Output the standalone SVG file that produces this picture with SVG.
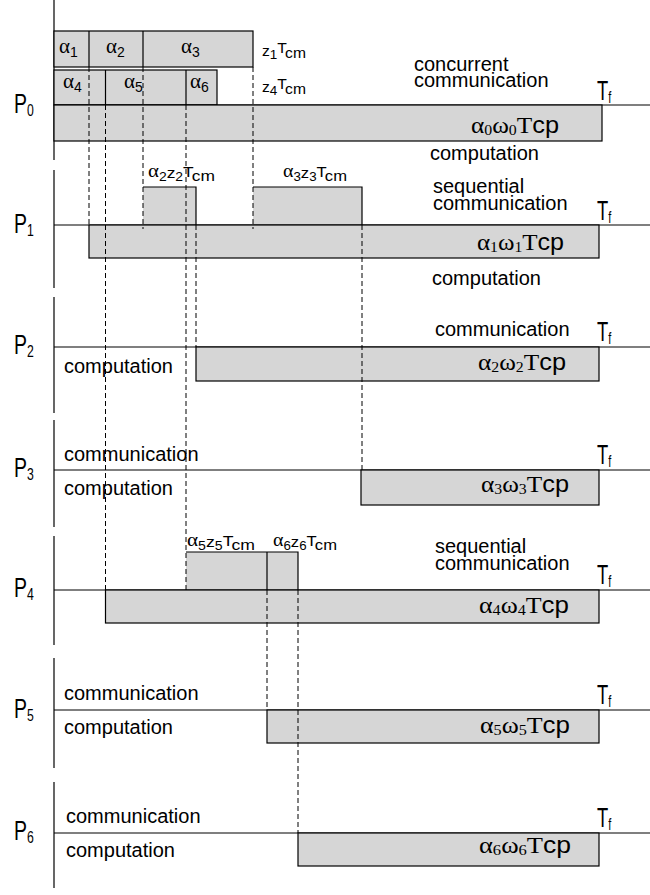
<svg xmlns="http://www.w3.org/2000/svg" width="650" height="895" viewBox="0 0 650 895">
<style>
.ln{stroke:#000;stroke-width:1.2;fill:none}
.rc{fill:#d6d6d6;stroke:#000;stroke-width:1.2}
.fl{fill:#d6d6d6;stroke:none}
.dl{stroke:#000;stroke-width:1;stroke-dasharray:5 3;fill:none}
.s{font-family:"Liberation Sans",Arial,Helvetica,sans-serif;font-size:20px;fill:#000}
.sm{font-family:"Liberation Sans",Arial,Helvetica,sans-serif;font-size:14px;fill:#000}
.g{font-family:"Liberation Serif","Times New Roman",serif;fill:#000}
.sf{font-family:"Liberation Sans",Arial,Helvetica,sans-serif}
.P{font-family:"Liberation Sans",Arial,Helvetica,sans-serif;font-size:27px;fill:#000}
.T{font-family:"Liberation Sans",Arial,Helvetica,sans-serif;font-size:27px;fill:#000}
.w{font-size:24px}
</style>

<!-- time axis, broken between processor frames -->
<g id="axis" class="ln">
  <line x1="54" y1="0" x2="54" y2="160"/>
  <line x1="54" y1="170" x2="54" y2="288"/>
  <line x1="54" y1="297" x2="54" y2="413"/>
  <line x1="54" y1="420" x2="54" y2="527"/>
  <line x1="54" y1="536" x2="54" y2="645"/>
  <line x1="54" y1="658" x2="54" y2="768"/>
  <line x1="54" y1="782" x2="54" y2="888"/>
</g>

<!-- P0: concurrent sends of the load fractions -->
<g id="p0">
  <rect class="rc" x="54" y="31" width="199" height="36"/>
  <line class="ln" x1="89" y1="31" x2="89" y2="67"/>
  <line class="ln" x1="143" y1="31" x2="143" y2="67"/>
  <rect class="rc" x="54" y="70" width="163" height="35"/>
  <line class="ln" x1="105.5" y1="70" x2="105.5" y2="105"/>
  <line class="ln" x1="186" y1="70" x2="186" y2="105"/>
  <text class="g" x="59" y="53" font-size="21">α<tspan class="sf" font-size="14" dy="4">1</tspan></text>
  <text class="g" x="106" y="53" font-size="21">α<tspan class="sf" font-size="14" dy="4">2</tspan></text>
  <text class="g" x="181" y="53" font-size="21">α<tspan class="sf" font-size="14" dy="4">3</tspan></text>
  <text class="g" x="63" y="88" font-size="21">α<tspan class="sf" font-size="14" dy="4">4</tspan></text>
  <text class="g" x="124" y="88" font-size="21">α<tspan class="sf" font-size="14" dy="4">5</tspan></text>
  <text class="g" x="190" y="88" font-size="21">α<tspan class="sf" font-size="14" dy="4">6</tspan></text>
  <text class="sm" x="262" y="56" font-size="15" textLength="44" lengthAdjust="spacingAndGlyphs">z<tspan font-size="12" dy="2.5">1</tspan><tspan dy="-5.5">T</tspan><tspan dy="5">cm</tspan></text>
  <text class="sm" x="262" y="92" font-size="15" textLength="44" lengthAdjust="spacingAndGlyphs">z<tspan font-size="12" dy="2.5">4</tspan><tspan dy="-5.5">T</tspan><tspan dy="5">cm</tspan></text>
  <text class="s" x="414" y="70.5">concurrent</text>
  <text class="s" x="414" y="87">communication</text>
  <line class="ln" x1="54" y1="105" x2="650" y2="105"/>
  <rect class="rc" x="54" y="105" width="548" height="36"/>
  <text class="g w" x="471" y="133" textLength="88" lengthAdjust="spacingAndGlyphs">α<tspan font-size="15" dy="2">0</tspan><tspan dy="-2">ω</tspan><tspan font-size="15" dy="2">0</tspan><tspan dy="-2">T</tspan><tspan class="sf">cp</tspan></text>
  <text class="s" x="430" y="160">computation</text>
  <text class="P" transform="translate(14,113) scale(0.72,1)">P<tspan font-size="17" dy="3">0</tspan></text>
  <text class="T" transform="translate(597,100) scale(0.68,1)">T<tspan font-size="16" dy="3">f</tspan></text>
</g>

<!-- P1: sequential relay of alpha2 and alpha3 -->
<g id="p1">
  <rect class="fl" x="143" y="187" width="53" height="38"/>
  <polyline class="ln" points="143,187 196,187 196,225"/>
  <rect class="fl" x="253" y="187" width="109" height="38"/>
  <polyline class="ln" points="253,187 362,187 362,225"/>
  <text class="g" x="148" y="177" font-size="18" textLength="67" lengthAdjust="spacingAndGlyphs">α<tspan class="sf" font-size="12" dy="4">2</tspan><tspan class="sf" font-size="15" dy="-3">z</tspan><tspan class="sf" font-size="12" dy="3">2</tspan><tspan class="sf" font-size="15" dy="-4">T</tspan><tspan class="sf" font-size="15" dy="4">cm</tspan></text>
  <text class="g" x="283" y="177" font-size="18" textLength="64" lengthAdjust="spacingAndGlyphs">α<tspan class="sf" font-size="12" dy="4">3</tspan><tspan class="sf" font-size="15" dy="-3">z</tspan><tspan class="sf" font-size="12" dy="3">3</tspan><tspan class="sf" font-size="15" dy="-4">T</tspan><tspan class="sf" font-size="15" dy="4">cm</tspan></text>
  <text class="s" x="433" y="192.5">sequential</text>
  <text class="s" x="433" y="210">communication</text>
  <line class="ln" x1="54" y1="225" x2="650" y2="225"/>
  <rect class="rc" x="89" y="225" width="510" height="33"/>
  <text class="g w" x="477" y="250" textLength="87" lengthAdjust="spacingAndGlyphs">α<tspan font-size="15" dy="2">1</tspan><tspan dy="-2">ω</tspan><tspan font-size="15" dy="2">1</tspan><tspan dy="-2">T</tspan><tspan class="sf">cp</tspan></text>
  <text class="s" x="432" y="285">computation</text>
  <text class="P" transform="translate(14,233) scale(0.72,1)">P<tspan font-size="17" dy="3">1</tspan></text>
  <text class="T" transform="translate(597,220) scale(0.68,1)">T<tspan font-size="16" dy="3">f</tspan></text>
</g>

<!-- P2 -->
<g id="p2">
  <text class="s" x="435" y="336">communication</text>
  <line class="ln" x1="54" y1="347" x2="650" y2="347"/>
  <rect class="rc" x="196" y="347" width="403" height="34"/>
  <text class="g w" x="478" y="370" textLength="88" lengthAdjust="spacingAndGlyphs">α<tspan font-size="15" dy="2">2</tspan><tspan dy="-2">ω</tspan><tspan font-size="15" dy="2">2</tspan><tspan dy="-2">T</tspan><tspan class="sf">cp</tspan></text>
  <text class="s" x="64" y="373">computation</text>
  <text class="P" transform="translate(14,354) scale(0.72,1)">P<tspan font-size="17" dy="3">2</tspan></text>
  <text class="T" transform="translate(597,341) scale(0.68,1)">T<tspan font-size="16" dy="3">f</tspan></text>
</g>

<!-- P3 -->
<g id="p3">
  <text class="s" x="64" y="461">communication</text>
  <line class="ln" x1="54" y1="470" x2="650" y2="470"/>
  <rect class="rc" x="361" y="470" width="238" height="35"/>
  <text class="g w" x="481" y="492" textLength="88" lengthAdjust="spacingAndGlyphs">α<tspan font-size="15" dy="2">3</tspan><tspan dy="-2">ω</tspan><tspan font-size="15" dy="2">3</tspan><tspan dy="-2">T</tspan><tspan class="sf">cp</tspan></text>
  <text class="s" x="64" y="495">computation</text>
  <text class="P" transform="translate(14,477) scale(0.72,1)">P<tspan font-size="17" dy="3">3</tspan></text>
  <text class="T" transform="translate(597,464) scale(0.68,1)">T<tspan font-size="16" dy="3">f</tspan></text>
</g>

<!-- P4: sequential relay of alpha5 and alpha6 -->
<g id="p4">
  <rect class="fl" x="186" y="552" width="112" height="38"/>
  <polyline class="ln" points="186,552 298,552 298,590"/>
  <line class="ln" x1="267" y1="552" x2="267" y2="590"/>
  <text class="g" x="187" y="546" font-size="18" textLength="68" lengthAdjust="spacingAndGlyphs">α<tspan class="sf" font-size="12" dy="4">5</tspan><tspan class="sf" font-size="15" dy="-3">z</tspan><tspan class="sf" font-size="12" dy="3">5</tspan><tspan class="sf" font-size="15" dy="-4">T</tspan><tspan class="sf" font-size="15" dy="4">cm</tspan></text>
  <text class="g" x="273" y="546" font-size="18" textLength="64" lengthAdjust="spacingAndGlyphs">α<tspan class="sf" font-size="12" dy="4">6</tspan><tspan class="sf" font-size="15" dy="-3">z</tspan><tspan class="sf" font-size="12" dy="3">6</tspan><tspan class="sf" font-size="15" dy="-4">T</tspan><tspan class="sf" font-size="15" dy="4">cm</tspan></text>
  <text class="s" x="435" y="552.5">sequential</text>
  <text class="s" x="435" y="570">communication</text>
  <line class="ln" x1="54" y1="590" x2="650" y2="590"/>
  <rect class="rc" x="105.5" y="590" width="493.5" height="33"/>
  <text class="g w" x="479" y="613" textLength="90" lengthAdjust="spacingAndGlyphs">α<tspan font-size="15" dy="2">4</tspan><tspan dy="-2">ω</tspan><tspan font-size="15" dy="2">4</tspan><tspan dy="-2">T</tspan><tspan class="sf">cp</tspan></text>
  <text class="P" transform="translate(14,597) scale(0.72,1)">P<tspan font-size="17" dy="3">4</tspan></text>
  <text class="T" transform="translate(597,584) scale(0.68,1)">T<tspan font-size="16" dy="3">f</tspan></text>
</g>

<!-- P5 -->
<g id="p5">
  <text class="s" x="64" y="700">communication</text>
  <line class="ln" x1="54" y1="710" x2="650" y2="710"/>
  <rect class="rc" x="267" y="710" width="332" height="33"/>
  <text class="g w" x="480" y="733" textLength="90" lengthAdjust="spacingAndGlyphs">α<tspan font-size="15" dy="2">5</tspan><tspan dy="-2">ω</tspan><tspan font-size="15" dy="2">5</tspan><tspan dy="-2">T</tspan><tspan class="sf">cp</tspan></text>
  <text class="s" x="64" y="734">computation</text>
  <text class="P" transform="translate(14,718) scale(0.72,1)">P<tspan font-size="17" dy="3">5</tspan></text>
  <text class="T" transform="translate(597,704) scale(0.68,1)">T<tspan font-size="16" dy="3">f</tspan></text>
</g>

<!-- P6 -->
<g id="p6">
  <text class="s" x="66" y="823">communication</text>
  <line class="ln" x1="54" y1="833" x2="650" y2="833"/>
  <rect class="rc" x="298" y="833" width="301" height="33"/>
  <text class="g w" x="479" y="853" textLength="92" lengthAdjust="spacingAndGlyphs">α<tspan font-size="15" dy="2">6</tspan><tspan dy="-2">ω</tspan><tspan font-size="15" dy="2">6</tspan><tspan dy="-2">T</tspan><tspan class="sf">cp</tspan></text>
  <text class="s" x="66" y="857">computation</text>
  <text class="P" transform="translate(14,840) scale(0.72,1)">P<tspan font-size="17" dy="3">6</tspan></text>
  <text class="T" transform="translate(597,827) scale(0.68,1)">T<tspan font-size="16" dy="3">f</tspan></text>
</g>

<!-- dashed timing guides between send ends and receive starts -->
<g id="connectors" class="dl">
  <line x1="89" y1="67" x2="89" y2="225"/>
  <line x1="105.5" y1="105" x2="105.5" y2="590"/>
  <line x1="143" y1="67" x2="143" y2="229"/>
  <line x1="186" y1="105" x2="186" y2="593"/>
  <line x1="253" y1="67" x2="253" y2="229"/>
  <line x1="196" y1="225" x2="196" y2="347"/>
  <line x1="362" y1="225" x2="362" y2="470"/>
  <line x1="267" y1="590" x2="267" y2="710"/>
  <line x1="298" y1="590" x2="298" y2="833"/>
</g>
</svg>
